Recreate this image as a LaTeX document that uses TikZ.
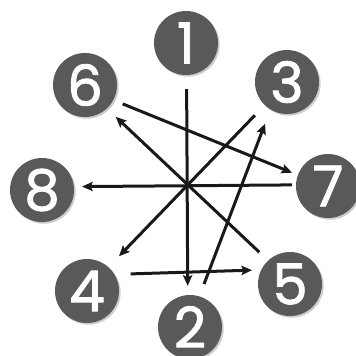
\documentclass[tikz,border=0pt]{standalone}
\usepackage{fontspec}
\newfontfamily\numfont[FakeBold=1.6]{Poppins}
\usetikzlibrary{arrows.meta, shadows}
\definecolor{cinza}{RGB}{88,89,91}

\begin{document}
\begin{tikzpicture}[
            x=0.03cm, y=-0.03cm,
            num/.style={circle, fill=cinza, minimum size=1.92cm, inner sep=0pt, text=white,
                font=\numfont\fontsize{48}{48}\selectfont,
                drop shadow={shadow xshift=0.05cm, shadow yshift=-0.05cm, fill=black, opacity=0.2}},
            seta/.style={draw=black!90, line width=0.09cm, -{Stealth[length=0.32cm, width=0.28cm, inset=0.06cm]}}
            ]
            \useasboundingbox (0,0) rectangle (356,356);
            
            % círculos
            \node[num] (n1) at (186,43) {1};
            \node[num] (n3) at (287,82) {3};
            \node[num] (n6) at (85,85) {6};
            \node[num] (n8) at (42,190) {8};
            \node[num] (n7) at (328,186) {7};
            \node[num] (n4) at (87,291) {4};
            \node[num] (n5) at (290,284) {5};
            \node[num] (n2) at (190,327) {2};
            
            % setas
            \draw[seta, shorten <=0.42cm, shorten >=0.27cm] (n1.-89) -- (n2.94);
            \draw[seta, shorten <=0.30cm, shorten >=0.18cm] (n6.-28) -- (n7.160);
            \draw[seta, shorten <=0.36cm, shorten >=0.36cm] (n5.133) -- (n6.-47);
            \draw[seta, shorten <=0.42cm, shorten >=0.45cm] (n3.-134) -- (n4.48);
            \draw[seta, shorten <=0.39cm, shorten >=0.45cm] (n2.73) -- (n3.-121);
            \draw[seta, shorten <=0.12cm, shorten >=0.24cm] (n7.178) -- (n8.6);
            \draw[seta, shorten <=0.48cm, shorten >=0.27cm] (n4.31) -- (n5.154);
            
        \end{tikzpicture}
\end{document}
